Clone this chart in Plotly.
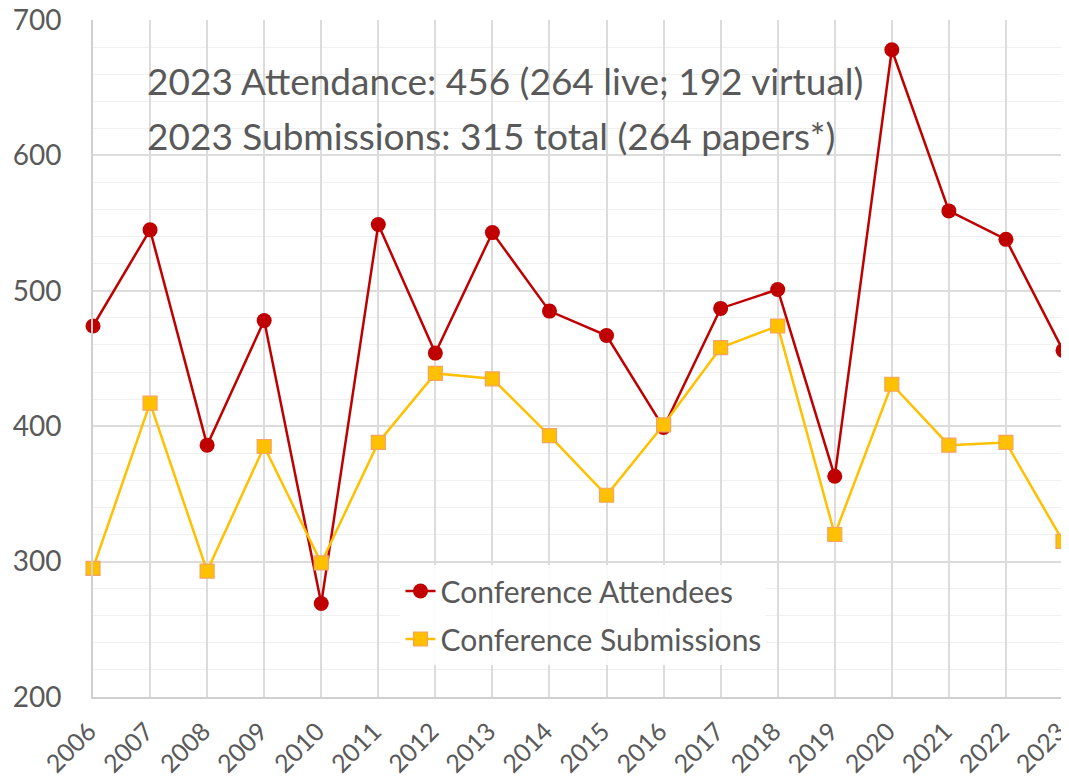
import plotly.graph_objects as go

years = list(range(2006, 2024))
attendees = [474, 545, 386, 478, 269, 549, 454, 543, 485, 467, 399, 487, 501, 363, 678, 559, 538, 456]
submissions = [295, 417, 293, 385, 299, 388, 439, 435, 393, 349, 401, 458, 474, 320, 431, 386, 388, 315]
y_ticks = [200, 300, 400, 500, 600, 700]
note_lines = ["2023 Attendance: 456 (264 live; 192 virtual)",
              "2023 Submissions: 315 total (264 papers*)"]

txt = "#595959"
font = "Lato, 'Open Sans', sans-serif"

fig = go.Figure()
fig.add_trace(go.Scatter(
    x=years, y=attendees, name="Conference Attendees", mode="lines+markers",
    legendgroup="a",
    line=dict(color="#C00000", width=2.5),
    marker=dict(symbol="circle", size=15, color="#C00000"),
    cliponaxis=False))
fig.add_trace(go.Scatter(
    x=years, y=submissions, name="Conference Submissions", mode="lines+markers",
    legendgroup="b",
    line=dict(color="#FFC000", width=2.5),
    marker=dict(symbol="square", size=14, color="#FFC000",
                line=dict(color="#F4A460", width=1.2)),
    cliponaxis=False))

fig.update_layout(
    width=1061, height=770,
    margin=dict(l=85, r=6, t=12, b=81, autoexpand=False),
    paper_bgcolor="white", plot_bgcolor="white",
    font=dict(family=font, color=txt, size=27),
    showlegend=True,
    legend=dict(x=0.317, y=0.195, xanchor="left", yanchor="top",
                bgcolor="rgba(255,255,255,0.9)", font=dict(size=30, color=txt),
                itemwidth=30, tracegroupgap=6),
    xaxis=dict(range=[2006, 2023], tickmode="array", tickvals=years,
               ticktext=[str(y) for y in years], tickangle=-45,
               showgrid=True, gridcolor="#dcdcdc", gridwidth=1.5,
               showline=True, linecolor="#d0d0d0", linewidth=2,
               zeroline=False, ticks="", tickfont=dict(size=25, color=txt),
               ticklabelstandoff=8, ticklabelshift=-4, ticklabeloverflow="allow",
               automargin=False),
    yaxis=dict(range=[200, 700], tickmode="array", tickvals=y_ticks,
               showgrid=True, gridcolor="#dcdcdc", gridwidth=1.5,
               minor=dict(dtick=20, showgrid=True, gridcolor="#f0f0f0", gridwidth=1.2),
               showline=True, linecolor="#cfcfcf", linewidth=2,
               zeroline=False, ticks="", ticklabelstandoff=24,
               ticklabeloverflow="allow",
               tickfont=dict(size=28, color=txt), automargin=False),
)

for line, yp in zip(note_lines, [0.911, 0.830]):
    fig.add_annotation(text=line, xref="paper", yref="paper", x=0.0536, y=yp,
                       xanchor="left", yanchor="middle", showarrow=False,
                       font=dict(size=37, color=txt, family=font))

fig.write_html("out.html")
